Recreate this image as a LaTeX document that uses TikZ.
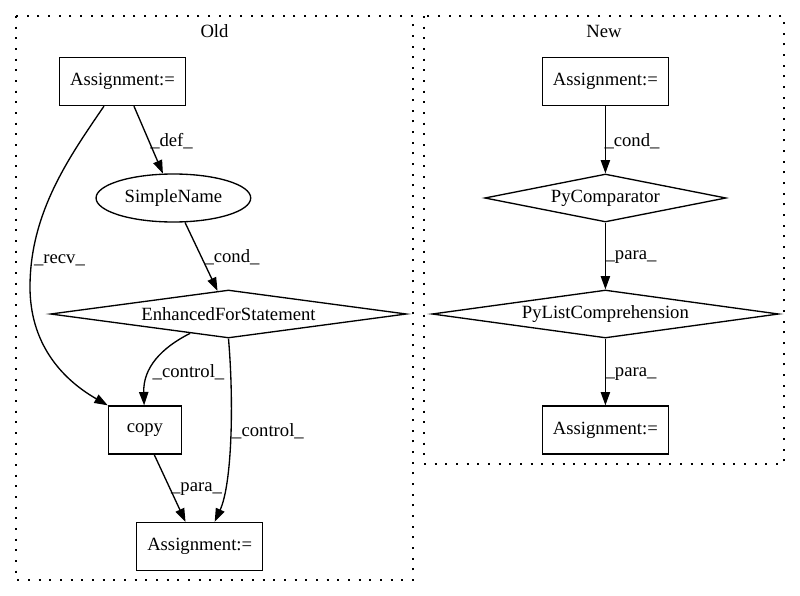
\documentclass[tikz,border=0pt]{standalone}
\usepackage{fontspec}
\setmainfont{Liberation Serif}
\usetikzlibrary{shapes.geometric,arrows.meta}
\begin{document}
\begin{tikzpicture}[x=0.75pt,y=-0.75pt,
  every node/.style={font=\fontsize{14pt}{16pt}\selectfont},
  box/.style={draw,line width=1pt,rectangle,inner sep=0pt,minimum width=94.5pt,minimum height=36pt},
  ell/.style={draw,line width=1pt,ellipse,inner sep=0pt,minimum width=116pt,minimum height=36pt},
  dia/.style={draw,line width=1pt,diamond,aspect=7,inner sep=0pt,minimum height=36pt},
  edge/.style={draw,line width=1pt,-{Triangle[length=10pt,width=7pt]}},
  lab/.style={inner sep=0pt},
  cluster/.style={draw,line width=1pt,dash pattern=on 1.5pt off 6.5pt}]
\useasboundingbox (0,0) rectangle (800,596);
% clusters
\draw[cluster] (16,16) rectangle (413,580);
\draw[cluster] (424,16) rectangle (784,464);
\node[lab] (oldlab) at (214.5,31) {Old};
\node[lab] (newlab) at (604,31) {New};
% Old nodes
\node[box] (a1) at (122.5,81.5) {Assignment:=};
\node[ell] (sn) at (173.4,198) {SimpleName};
\node[dia,minimum width=267pt] (efs) at (228.5,314) {EnhancedForStatement};
\node[box,minimum width=54.75pt] (cp) at (144.9,430) {copy};
\node[box] (ab) at (199.7,546.5) {Assignment:=};
% New nodes
\node[box] (n1) at (605.4,81.5) {Assignment:=};
\node[dia,minimum width=181pt] (pc) at (605.4,198) {PyComparator};
\node[dia,minimum width=260pt] (plc) at (605.4,314) {PyListComprehension};
\node[box] (n2) at (605.4,430) {Assignment:=};
% Old edges
\draw[edge] ([xshift=8.6pt]a1.south) -- (sn);
\draw[edge] ([xshift=-13.9pt]a1.south) .. controls (70,156) and (30,212) .. (30,287)
   .. controls (30,342) and (60,378) .. (cp.north west);
\draw[edge] (sn) -- (efs);
\draw[edge] (efs) .. controls (161,348) and (143,368) .. (cp);
\draw[edge] (efs.south) .. controls (234,403) and (232,484) .. ([xshift=11.25pt]ab.north);
\draw[edge] ([xshift=7pt]cp.south) -- ([xshift=-10.65pt]ab.north);
% New edges
\draw[edge] (n1) -- (pc);
\draw[edge] (pc) -- (plc);
\draw[edge] (plc) -- (n2);
% labels
\node[lab] (l1) at (171.5,141) {\_def\_};
\node[lab] (l2) at (59.5,260) {\_recv\_};
\node[lab] (l3) at (232,257) {\_cond\_};
\node[lab] (l4) at (188.5,372) {\_control\_};
\node[lab] (l5) at (268,431) {\_control\_};
\node[lab] (l6) at (196.5,489) {\_para\_};
\node[lab] (l7) at (632,141) {\_cond\_};
\node[lab] (l8) at (631,257) {\_para\_};
\node[lab] (l9) at (631,374) {\_para\_};
\end{tikzpicture}
\end{document}
